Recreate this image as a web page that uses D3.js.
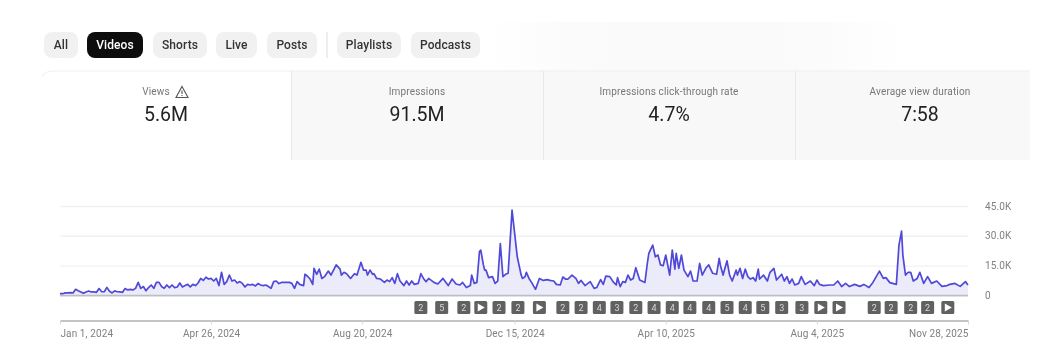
<!DOCTYPE html>
<html><head><meta charset="utf-8">
<script src="https://cdn.jsdelivr.net/npm/d3@7/dist/d3.min.js"></script>
<style>
html,body{margin:0;padding:0;background:#fff;overflow:hidden}
svg{display:block;font-family:Roboto,sans-serif;filter:blur(.45px)}
</style></head><body>
<svg id="c" width="1040" height="364"></svg>
<script>
const tabs = ["All","Videos","Shorts","Live","Posts","Playlists","Podcasts"];
const tabStart = [44,87,153,216,267,337,411];
const tabEnd = [78,143,207,257,317,401,480];
const metricNames = ["Views","Impressions","Impressions click-through rate","Average view duration"];
const metricValues = ["5.6M","91.5M","4.7%","7:58"];
const xTickLabels = ["Jan 1, 2024","Apr 26, 2024","Aug 20, 2024","Dec 15, 2024","Apr 10, 2025","Aug 4, 2025","Nov 28, 2025"];
const yTicks = [0,15000,30000,45000];
const yTickLabels = ["0","15.0K","30.0K","45.0K"];

const days = [
0,2,4,6,8,10,12,14,16,18,20,22,24,26,28,30,32,34,36,38,40,42,44,46,48,50,52,54,56,58,60,62,64,66,68,70,72,74,76,78,80,82,84,86,88,90,92,94,96,98,100,102,104,106,108,110,112,114,116,118,120,122,124,126,128,130,132,134,136,138,140,142,144,146,148,150,152,154,156,158,160,162,164,166,168,170,172,174,176,
178,180,182,184,187,188,190,192,194,195,197,199,201,203,206,208,212,215,216,218,220,223,226,228,231,233,235,236,238,240,241,243,246,249,251,253,255,257,259,261,264,266,268,270,272,275,277,279,281,283,287,290,294,298,301,304,307,309,312,315,316,318,320,322,323,325,326,327,329,332,334,336,338,340,342,344,347,
349,351,354,355,357,358,360,362,365,368,371,374,376,379,381,384,386,388,390,393,396,398,400,403,407,410,412,415,417,419,422,425,427,428,430,432,434,436,438,440,442,445,449,451,452,455,457,459,461,463,465,468,470,472,473,475,477,479,482,484,486,489,491,493,496,498,501,504,506,507,509,512,514,516,519,520,522,
524,526,528,530,532,534,536,537,540,543,545,548,550,554,556,558,560,562,564,567,569,572,576,579,581,583,586,591,594,597,600,603,606,610,614,617,621,624,629,632,634,637,642,644,646,647,649,651,653,655,658,660,663,666,669,673,677,681,683,687,691,695,697];
const views = [
.8,.8,1.2,1.2,1.3,1.2,3.0,2.3,1.7,1.0,1.7,2.2,1.7,1.7,1.5,3.4,1.8,1.8,4.0,2.0,1.2,2.2,1.8,1.7,1.5,3.4,2.7,3.0,2.7,3.5,6.5,3.5,4.4,2.3,3.9,5.2,3.5,6.5,6.5,4.4,3.5,5.2,3.9,5.2,3.9,4.2,6.2,4.2,4.9,5.5,4.2,5.5,4.9,6.2,8.5,7.5,9.1,8.2,8.5,7.2,8.5,4.9,11.6,5.5,6.9,10.2,7.2,7.7,6.2,6.9,6.0,4.2,5.5,5.2,5.5,4.7,5.9,5.2,4.9,5.2,4.4,3.5,6.9,7.2,5.9,6.5,6.5,6.5,6.5,
6.0,3.5,6.9,5.5,4.9,10.6,9.6,8.2,5.5,13.6,10.6,13.2,8.5,9.4,12.2,10.2,15.3,13.2,10.2,11.6,10.9,8.5,10.9,10.2,16.6,12.7,12.7,10.2,12.7,10.6,10.9,8.5,8.2,6.5,7.7,6.9,8.9,6.0,10.9,7.2,4.9,7.2,5.2,7.2,5.5,6.0,10.9,8.5,6.9,8.5,6.5,5.7,8.5,4.9,8.2,5.7,5.2,6.5,3.9,4.9,10.2,6.0,6.5,22.0,22.8,15.3,12.7,12.7,8.9,9.4,6.0,7.2,26.1,9.4,10.6,11.1,42.9,
31.2,19.4,10.2,8.5,9.4,11.6,8.5,6.5,3.0,8.5,7.5,7.9,7.5,7.2,5.5,5.2,9.2,8.2,8.2,10.2,8.5,6.0,7.5,4.9,6.9,3.5,3.9,7.9,5.5,9.7,9.4,6.5,5.2,8.9,4.4,6.9,6.5,10.2,7.7,8.5,13.9,7.7,6.5,16.9,21.1,25.3,19.4,20.3,15.3,14.9,20.3,10.2,22.8,13.2,21.1,13.6,20.3,12.7,9.4,12.2,7.2,7.2,16.1,10.2,13.9,15.3,11.1,10.6,18.6,14.9,10.2,17.4,10.2,7.2,12.7,10.2,13.6,
8.5,13.2,9.4,8.2,8.9,7.2,13.2,8.2,10.2,7.2,11.6,13.6,7.7,10.6,7.2,9.4,6.0,8.2,5.2,6.0,9.4,5.5,7.2,4.9,7.7,5.5,4.9,5.2,5.2,7.2,4.4,6.0,4.4,5.5,4.5,5.5,3.9,6.5,12.2,8.5,8.9,6.4,5.5,25.3,32.3,20.3,10.2,11.6,11.6,7.2,8.5,11.6,6.0,9.4,6.0,7.2,4.5,4.9,5.5,6.0,4.5,6.9,5.2];

const markerDays = [277,293,310,323,337,351.5,368,386,400,414,427.5,442,456,470,483.5,498,512,526,539.5,554,569.5,584,598,625,638,653,666,681.5];
const markerLabels = ["2","5","2","play","2","2","play","2","2","4","3","2","4","4","4","4","5","4","5","3","3","play","play","2","2","2","2","play"];

const svg = d3.select("#c");
const font = "Roboto,sans-serif";

const defs = svg.append("defs");
const pg = defs.append("linearGradient").attr("id","patch").attr("x1",0).attr("x2",1).attr("y1",0).attr("y2",0);
[[0,"#fff"],[.3,"#fafafa"],[.7,"#fafafa"],[1,"#fff"]].forEach(s=>pg.append("stop").attr("offset",s[0]).attr("stop-color",s[1]));
svg.append("rect").attr("x",480).attr("y",22).attr("width",430).attr("height",50).attr("fill","url(#patch)");

const activeTab = "Videos";
const tabG = svg.append("g").selectAll("g").data(tabs).join("g");
tabG.append("rect").attr("x",(d,i)=>tabStart[i]).attr("y",32)
  .attr("width",(d,i)=>tabEnd[i]-tabStart[i]).attr("height",26).attr("rx",8)
  .attr("fill",d=>d===activeTab?"#0d0d0d":"#f1f1f1");
tabG.append("text").attr("x",(d,i)=>(tabStart[i]+tabEnd[i])/2).attr("y",49).attr("text-anchor","middle")
  .attr("font-size",12).attr("font-weight",500).attr("letter-spacing",.1)
  .attr("fill",d=>d===activeTab?"#fff":"#333").text(d=>d);
svg.append("rect").attr("x",326.5).attr("y",32).attr("width",1).attr("height",26).attr("fill","#dcdcdc");

const cardStart = [42,291,543,795];
const cardEnd = [291,543,795,1030];
svg.append("g").selectAll("rect").data(metricNames).join("rect")
  .attr("x",(d,i)=>cardStart[i]).attr("y",71).attr("width",(d,i)=>cardEnd[i]-cardStart[i]).attr("height",89)
  .attr("fill",(d,i)=>i===0?"#fff":"#f8f8f8");
svg.append("path").attr("d","M42 77 Q44 71 54 71 H1030").attr("fill","none").attr("stroke","#efefef");
svg.append("g").selectAll("line").data(cardStart.slice(1)).join("line")
  .attr("x1",d=>d+.5).attr("x2",d=>d+.5).attr("y1",71).attr("y2",160).attr("stroke","#e8e8e8");
const nameX = [156,417,669,920];
const valueX = [166,417,669,920];
svg.append("g").selectAll("text").data(metricNames).join("text")
  .attr("x",(d,i)=>nameX[i]).attr("y",95).attr("text-anchor","middle").attr("font-size",10)
  .attr("letter-spacing",.15).attr("fill","#777").text(d=>d);
svg.append("g").selectAll("text").data(metricValues).join("text")
  .attr("x",(d,i)=>valueX[i]).attr("y",120.5).attr("text-anchor","middle").attr("font-size",19.5)
  .attr("fill","#222").text(d=>d);
const warn = svg.append("g").attr("fill","none").attr("stroke","#555").attr("stroke-width",1.1);
warn.append("path").attr("d","M182 86.5 L188 97.5 H176 Z");
warn.append("path").attr("d","M182 90.5 V94 M182 95 V96");

const start = new Date(Date.UTC(2024,0,1));
const dayDate = d => new Date(start.getTime()+d*864e5);
const x = d3.scaleUtc().domain([dayDate(0),dayDate(697)]).range([60,968]);
const y = d3.scaleLinear().domain([0,45000]).range([295.3,206]);

const gridAxis = d3.axisRight(y).tickValues(yTicks).tickSize(908).tickPadding(17).tickFormat((d,i)=>yTickLabels[i]);
const gy = svg.append("g").attr("transform","translate(60,0)").call(gridAxis);
gy.select(".domain").remove();
gy.selectAll("line").attr("stroke",d=>d===0?"#c4c4c4":"#f1f1f1").attr("stroke-width",1.3);
gy.selectAll("text").attr("font-family",font).attr("font-size",10).attr("letter-spacing",.15).attr("fill","#808080");

const pts = days.map((d,i)=>({date:dayDate(d),v:views[i]*1000}));
svg.append("path").datum(pts).attr("fill","#ecebfa")
  .attr("d",d3.area().x(d=>x(d.date)).y0(y(0)).y1(d=>y(d.v)));
svg.append("line").attr("x1",60).attr("x2",968).attr("y1",y(0)).attr("y2",y(0)).attr("stroke","#bdbdc4").attr("stroke-width",1.3);
svg.append("path").datum(pts).attr("fill","none").attr("stroke","#5049d8").attr("stroke-width",1.7)
  .attr("stroke-linejoin","round")
  .attr("d",d3.line().x(d=>x(d.date)).y(d=>y(d.v)));

const mk = svg.append("g").selectAll("g").data(markerDays).join("g")
  .attr("transform",d=>`translate(${x(dayDate(d))},307.5)`);
mk.append("rect").attr("x",-6.5).attr("y",-6.5).attr("width",13).attr("height",13).attr("rx",1.5).attr("fill","#616161");
mk.filter((d,i)=>markerLabels[i]!=="play").append("text").attr("text-anchor","middle").attr("y",3.2)
  .attr("font-size",9).attr("fill","#d8d8d8").text(function(d){return markerLabels[markerDays.indexOf(d)];});
mk.filter((d,i)=>markerLabels[i]==="play").append("path").attr("d","M-3 -4 L4 0 L-3 4 Z").attr("fill","#fff");

const tickDates = xTickLabels.map(l=>d3.utcParse("%b %-d, %Y")(l));
const xAxis = d3.axisBottom(x).tickValues(tickDates).tickSize(4).tickSizeOuter(0).tickPadding(5).tickFormat((d,i)=>xTickLabels[i]);
const gx = svg.append("g").attr("transform","translate(0,320.5)").call(xAxis);
gx.select(".domain").attr("stroke","#b0b0b0").attr("stroke-width",1.3);
gx.selectAll("line").attr("stroke","#d8d8d8");
gx.selectAll("text").attr("font-family",font).attr("font-size",10).attr("letter-spacing",.1).attr("fill","#808080")
  .attr("text-anchor",(d,i)=>i===0?"start":(i===xTickLabels.length-1?"end":"middle"));
</script>
</body></html>
